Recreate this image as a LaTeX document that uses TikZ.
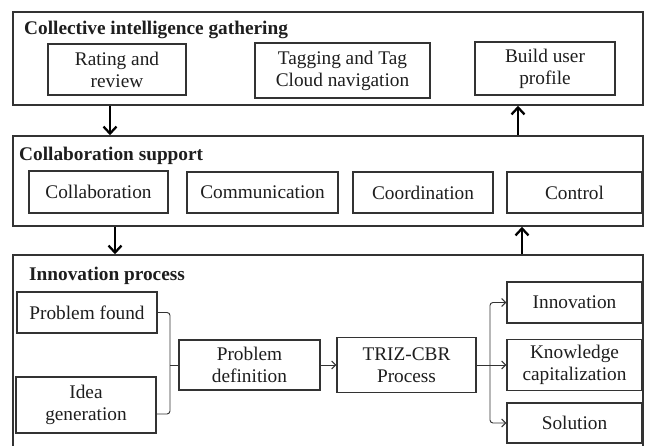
\documentclass[tikz,border=0pt]{standalone}
\usepackage{fontspec}
\setmainfont{Liberation Serif}
\usetikzlibrary{arrows.meta}
\definecolor{ink}{HTML}{1E1E1E}
\definecolor{frame}{HTML}{333333}
\tikzset{
  outer/.style={draw=frame, line width=1.5pt, rectangle, inner sep=0pt},
  box/.style={draw=frame, line width=1.5pt, rectangle, inner sep=1pt, align=center,
    text=ink, font=\fontsize{19.3}{22}\selectfont},
  ttl/.style={anchor=base west, inner sep=0pt, text=ink, font=\fontsize{19.3}{22}\selectfont\bfseries},
  layer/.style={draw=black, line width=2.3pt, -{Straight Barb[length=7pt,width=13pt]}},
  conn/.style={draw=frame, line width=0.9pt},
  arr/.style={conn, -{Straight Barb[length=4pt,width=8pt]}}
}
\begin{document}
\begin{tikzpicture}[x=1pt,y=-1pt]
\useasboundingbox[fill=white] (0,0) rectangle (645,446);
% layer frames
\node[outer, minimum width=630pt, minimum height=93pt] (L1) at (328,58.5) {};
\node[outer, minimum width=630pt, minimum height=90pt] (L2) at (328,181) {};
\node[outer, minimum width=630pt, minimum height=200pt] (L3) at (328,355) {};
% titles
\node[ttl] (t1) at (24,35) {Collective intelligence gathering};
\node[ttl] (t2) at (19,161) {Collaboration support};
\node[ttl] (t3) at (29,281) {Innovation process};
% layer 1
\node[box, minimum width=138pt, minimum height=51pt] (rate) at (117,69.5) {Rating and\\review};
\node[box, minimum width=175pt, minimum height=55pt] (tag) at (342.5,70.5) {Tagging and Tag\\Cloud navigation};
\node[box, minimum width=140pt, minimum height=53pt] (build) at (545,68.5) {Build user\\profile};
% layer 2
\node[box, minimum width=139pt, minimum height=42pt] (collab) at (98.5,192) {Collaboration};
\node[box, minimum width=151pt, minimum height=41pt] (comm) at (262.5,192.5) {Communication};
\node[box, minimum width=140pt, minimum height=41pt] (coord) at (423,192.5) {Coordination};
\node[box, minimum width=135pt, minimum height=41pt] (ctrl) at (574.5,192.5) {Control};
% layer 3
\node[box, minimum width=140pt, minimum height=41pt] (pf) at (87,312.5) {Problem found};
\node[box, minimum width=140pt, minimum height=56pt] (ig) at (86,405) {Idea\\generation};
\node[box, minimum width=141pt, minimum height=50pt] (pd) at (249.5,365) {Problem\\definition};
\node[box, minimum width=139pt, minimum height=55pt] (triz) at (406.5,365) {TRIZ-CBR\\Process};
\node[box, minimum width=135pt, minimum height=41pt] (inn) at (574.5,302.5) {Innovation};
\node[box, minimum width=135pt, minimum height=51pt] (know) at (574.5,365) {Knowledge\\capitalization};
\node[box, minimum width=135pt, minimum height=40pt] (sol) at (574.5,423) {Solution};
% layer arrows
\coordinate (d1) at (110,0);
\coordinate (d2) at (115,0);
\coordinate (u1) at (518,0);
\coordinate (u2) at (522,0);
\draw[layer] (L1.south -| d1) -- (L2.north -| d1);
\draw[layer] (L2.south -| d2) -- (L3.north -| d2);
\draw[layer] (L2.north -| u1) -- (L1.south -| u1);
\draw[layer] (L3.north -| u2) -- (L2.south -| u2);
% process connectors
\coordinate (bx) at (170,365);
\draw[conn, rounded corners=3pt] (pf.east) -| (bx) |- ([yshift=-9pt]ig.east);
\draw[conn] (bx) -- (pd.west);
\draw[arr] (pd.east) -- (triz.west);
\coordinate (sx) at (490,365);
\draw[conn] (triz.east) -- (sx);
\draw[arr, rounded corners=3pt] (sx) |- (inn.west);
\draw[arr, rounded corners=3pt] (sx) |- (sol.west);
\draw[arr] (sx) -- (know.west);
\end{tikzpicture}
\end{document}
